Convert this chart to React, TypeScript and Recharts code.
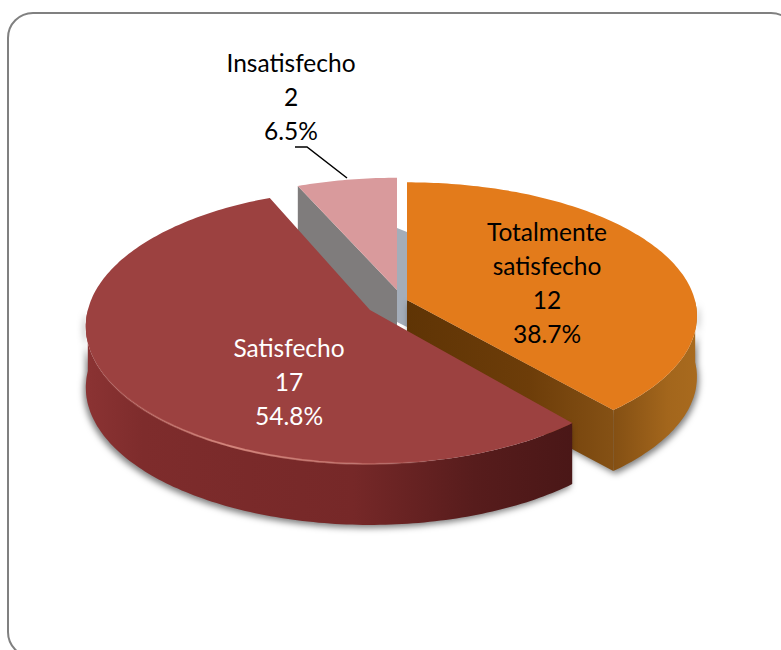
import React from 'react';
import { PieChart, Pie } from 'recharts';

const categories = ['Totalmente satisfecho', 'Satisfecho', 'Insatisfecho'];
const counts = [12, 17, 2];
const topColors = ['#e37b1b', '#9c4140', '#d99a9c'];
const labelColors = ['#000000', '#ffffff', '#000000'];

const data = categories.map((name, i) => ({ name, value: counts[i] }));

const WIDTH = 781;
const HEIGHT = 650;
const PIE_CX = 390;
const PIE_CY = 305;
const PIE_R = 285;
const WALL = 61;
const PERSPECTIVE = 0.12;

// back to front, the pie is faked 3D so paint order matters
const drawOrder = [2, 0, 1];

// explode offset + tilt for each slice
const sliceLayout = [
  { dx: 17, dy: -5, scale: 1.01, tilt: 0.458 },
  { dx: -20, dy: 5, scale: 0.99, tilt: 0.48 },
  { dx: 7, dy: -15, scale: 0.98, tilt: 0.45 },
];
const labelPos = [
  { x: 547, y: 231 },
  { x: 289, y: 347 },
  { x: 291, y: 62 },
];
const LINE_H = 34;

type Pt = { x: number; y: number; v: number };

const project = (cx: number, cy: number, r: number, tilt: number, deg: number): Pt => {
  const a = (deg * Math.PI) / 180;
  const u = Math.cos(a);
  const v = -Math.sin(a);
  const s = 1 / (1 - PERSPECTIVE * v);
  return { x: cx + r * u * s, y: cy + r * tilt * v * s, v };
};

const toPath = (pts: { x: number; y: number }[]) =>
  pts.map((p, i) => `${i ? 'L' : 'M'}${p.x.toFixed(1)} ${p.y.toFixed(1)}`).join(' ');

const Slice = (props: any) => {
  const { cx, cy, outerRadius, startAngle, endAngle, percent, value, name, index } = props;
  const lay = sliceLayout[index];
  const ox = cx + lay.dx;
  const oy = cy + lay.dy;
  const r = outerRadius * lay.scale;

  const arc: Pt[] = [];
  const steps = Math.ceil(Math.abs(endAngle - startAngle));
  for (let i = 0; i <= steps; i++) {
    arc.push(project(ox, oy, r, lay.tilt, startAngle + ((endAngle - startAngle) * i) / steps));
  }
  const front = arc.filter((p) => p.v >= 0);
  const down = (pts: { x: number; y: number }[]) => pts.map((p) => ({ x: p.x, y: p.y + WALL })).reverse();
  const vertex = { x: ox, y: oy };
  const top = toPath([vertex, ...arc]) + ' Z';
  const last = arc[arc.length - 1];
  const first = arc[0];

  const lines = [...String(name).split(' '), String(value), `${(percent * 100).toFixed(1)}%`];
  const pos = labelPos[index];

  return (
    <g>
      {index === 2 && (
        <g>
          {/* pale strip seen through the gap next to the orange slice */}
          <path
            d={toPath([
              { x: ox, y: oy - 62 },
              { x: ox + 10, y: oy - 58 },
              { x: ox + 10, y: oy + 37 },
              { x: ox, y: oy + 32 },
            ]) + ' Z'}
            fill="#a4adb9"
          />
          <path d={toPath([first, vertex, { x: ox, y: oy + WALL }, { x: first.x, y: first.y + WALL }]) + ' Z'} fill="#7f7c7c" />
        </g>
      )}
      {index === 0 && (
        <g style={{ filter: 'drop-shadow(2px 3px 3px rgba(0,0,0,0.5))' }}>
          <path d={toPath([...front, ...down(front)]) + ' Z'} fill="url(#orangeWall)" />
          <path d={toPath([vertex, last, { x: last.x, y: last.y + WALL }, { x: ox, y: oy + WALL }]) + ' Z'} fill="url(#orangeCut)" />
        </g>
      )}
      {index === 1 && (
        <g style={{ filter: 'drop-shadow(-2px 3px 3px rgba(0,0,0,0.5))' }}>
          <path d={toPath([...front, ...down(front)]) + ' Z'} fill="url(#maroonWall)" />
        </g>
      )}
      <path d={top} fill={topColors[index]} />
      {index === 1 && (
        <path d={toPath(front)} fill="none" stroke="url(#maroonRim)" strokeWidth={2} />
      )}
      {index === 2 && (
        <path d={`M295 147 L307 147 L347 178`} fill="none" stroke="#000000" strokeWidth={1.5} />
      )}
      <text
        x={pos.x}
        y={pos.y}
        textAnchor="middle"
        fill={labelColors[index]}
        fontFamily="Lato"
        fontSize={24.5}
      >
        {lines.map((t, i) => (
          <tspan key={i} x={pos.x} y={pos.y + i * LINE_H} dominantBaseline="central">
            {t}
          </tspan>
        ))}
      </text>
    </g>
  );
};

export default function App() {
  return (
    <div style={{ position: 'absolute', left: 0, top: 0, width: WIDTH, height: HEIGHT, overflow: 'hidden', background: '#fff' }}>
      <div
        style={{
          position: 'absolute',
          left: 7,
          top: 12,
          width: 790,
          height: 646,
          border: '2px solid #808080',
          borderRadius: 26,
          boxSizing: 'border-box',
        }}
      />
      <div style={{ position: 'absolute', left: 0, top: 0 }}>
        <PieChart width={WIDTH} height={HEIGHT} margin={{ top: 0, right: 0, bottom: 0, left: 0 }}>
          <defs>
            <linearGradient id="maroonWall" gradientUnits="userSpaceOnUse" x1={85} y1={0} x2={572} y2={0}>
              <stop offset="0" stopColor="#8b3333" />
              <stop offset="0.12" stopColor="#7e2c2c" />
              <stop offset="0.55" stopColor="#762828" />
              <stop offset="0.8" stopColor="#571c1c" />
              <stop offset="1" stopColor="#4a1717" />
            </linearGradient>
            <linearGradient id="maroonRim" gradientUnits="userSpaceOnUse" x1={90} y1={0} x2={440} y2={0}>
              <stop offset="0" stopColor="#d98a80" stopOpacity={0} />
              <stop offset="0.4" stopColor="#d98a80" stopOpacity={0.9} />
              <stop offset="0.75" stopColor="#d98a80" stopOpacity={0.5} />
              <stop offset="1" stopColor="#d98a80" stopOpacity={0} />
            </linearGradient>
            <linearGradient id="orangeWall" gradientUnits="userSpaceOnUse" x1={605} y1={0} x2={695} y2={0}>
              <stop offset="0" stopColor="#7f4c12" />
              <stop offset="0.7" stopColor="#a3661c" />
              <stop offset="1" stopColor="#a86a1e" />
            </linearGradient>
            <linearGradient id="orangeCut" gradientUnits="userSpaceOnUse" x1={407} y1={0} x2={610} y2={0}>
              <stop offset="0" stopColor="#5f3405" />
              <stop offset="0.6" stopColor="#6d3d09" />
              <stop offset="1" stopColor="#845014" />
            </linearGradient>
          </defs>
          {drawOrder.map((slice) => (
            <Pie
              key={slice}
              data={data}
              dataKey="value"
              nameKey="name"
              cx={PIE_CX}
              cy={PIE_CY}
              outerRadius={PIE_R}
              startAngle={90}
              endAngle={-270}
              stroke="none"
              isAnimationActive={false}
              shape={(p: any) => (p.index === slice ? <Slice {...p} /> : <g />)}
            />
          ))}
        </PieChart>
      </div>
    </div>
  );
}
